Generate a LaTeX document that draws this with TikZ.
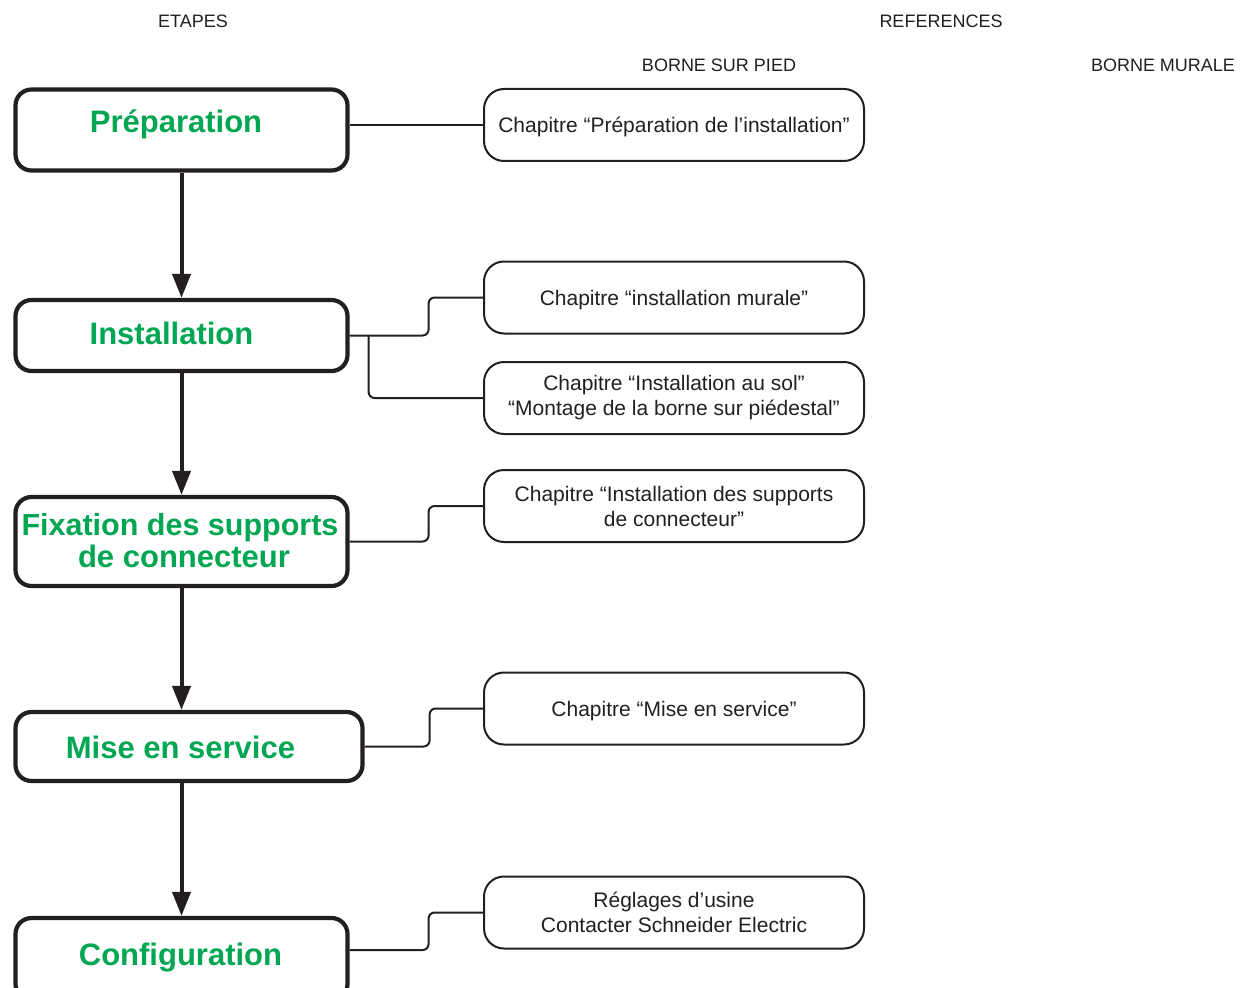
\documentclass[tikz,border=0pt]{standalone}
\usepackage{fontspec}
\setmainfont{Liberation Sans}
\usetikzlibrary{arrows.meta,calc}
\definecolor{sgreen}{RGB}{0,166,81}
\definecolor{ink}{RGB}{35,31,32}
\begin{document}
\begin{tikzpicture}[x=1pt,y=-1pt,
 stepbox/.style={draw=ink, line width=4.2pt, rounded corners=16pt, inner sep=0pt, fill=white},
 refbox/.style={draw=ink, line width=2pt, rounded corners=20pt, minimum width=380pt, minimum height=72pt, align=center, font=\fontsize{21}{25}\selectfont, text=ink, inner sep=0pt},
 oneline/.style={text depth=0pt},
 title/.style={font=\fontsize{31}{32}\selectfont\bfseries, text=sgreen, anchor=base},
 head/.style={font=\fontsize{18}{20}\selectfont, text=ink},
 arr/.style={draw=ink, line width=4pt, -{Triangle[length=24pt,width=18pt]}},
 conn/.style={draw=ink, line width=2pt, rounded corners=6pt}]
\useasboundingbox (0,0) rectangle (1249,987);
% headers
\node[head] (h1) at (193,21) {ETAPES};
\node[head] (h2) at (941,21) {REFERENCES};
\node[head] (h3) at (719,65) {BORNE SUR PIED};
\node[head] (h4) at (1163,65) {BORNE MURALE};
% step boxes
\node[stepbox, minimum width=332pt, minimum height=81pt] (prep) at (181.5,130) {};
\node[stepbox, minimum width=332pt, minimum height=71pt] (inst) at (181.5,335.5) {};
\node[stepbox, minimum width=332pt, minimum height=89pt] (fix) at (181.5,541.5) {};
\node[stepbox, minimum width=347pt, minimum height=69pt] (mise) at (189,746.5) {};
\node[stepbox, minimum width=332pt, minimum height=82pt] (config) at (181.5,959) {};
% titles
\node[title] (prept) at (176,133) {Préparation};
\node[title] (instt) at (171.5,344) {Installation};
\node[title, font=\fontsize{30.5}{32}\selectfont\bfseries] (fixt1) at (180,535) {Fixation des supports};
\node[title] (fixt2) at (184,567) {de connecteur};
\node[title] (miset) at (180.5,758) {Mise en service};
\node[title] (configt) at (180.5,965) {Configuration};
% reference boxes
\node[refbox, oneline] (r1) at (674,125) {Chapitre “Préparation de l’installation”};
\node[refbox, oneline] (r2) at (674,297.5) {Chapitre “installation murale”};
\node[refbox] (r3) at (674,398) {Chapitre “Installation au sol”\\“Montage de la borne sur piédestal”};
\node[refbox] (r4) at (674,506) {Chapitre “Installation des supports\\de connecteur”};
\node[refbox, oneline] (r5) at (674,708.5) {Chapitre “Mise en service”};
\node[refbox] (r6) at (674,912.5) {Réglages d’usine\\Contacter Schneider Electric};
% arrows
\draw[arr] (prep.south) -- (inst.north);
\draw[arr] (inst.south) -- (fix.north);
\draw[arr] (fix.south) -- (fix.south |- mise.north);
\draw[arr] (fix.south |- mise.south) -- (fix.south |- config.north);
% connectors
\draw[conn] (r1.west) -- (r1.west -| prep.east);
\draw[conn] (inst.east) -- ++(79,0) |- (r2.west);
\draw[conn] ($(inst.east)+(19,0)$) |- (r3.west);
\draw[conn] (fix.east) -- ++(79,0) |- (r4.west);
\draw[conn] (mise.east) -- ++(65,0) |- (r5.west);
\draw[conn] ($(config.east)+(0,-9)$) -- ++(79,0) |- (r6.west);
\end{tikzpicture}
\end{document}
